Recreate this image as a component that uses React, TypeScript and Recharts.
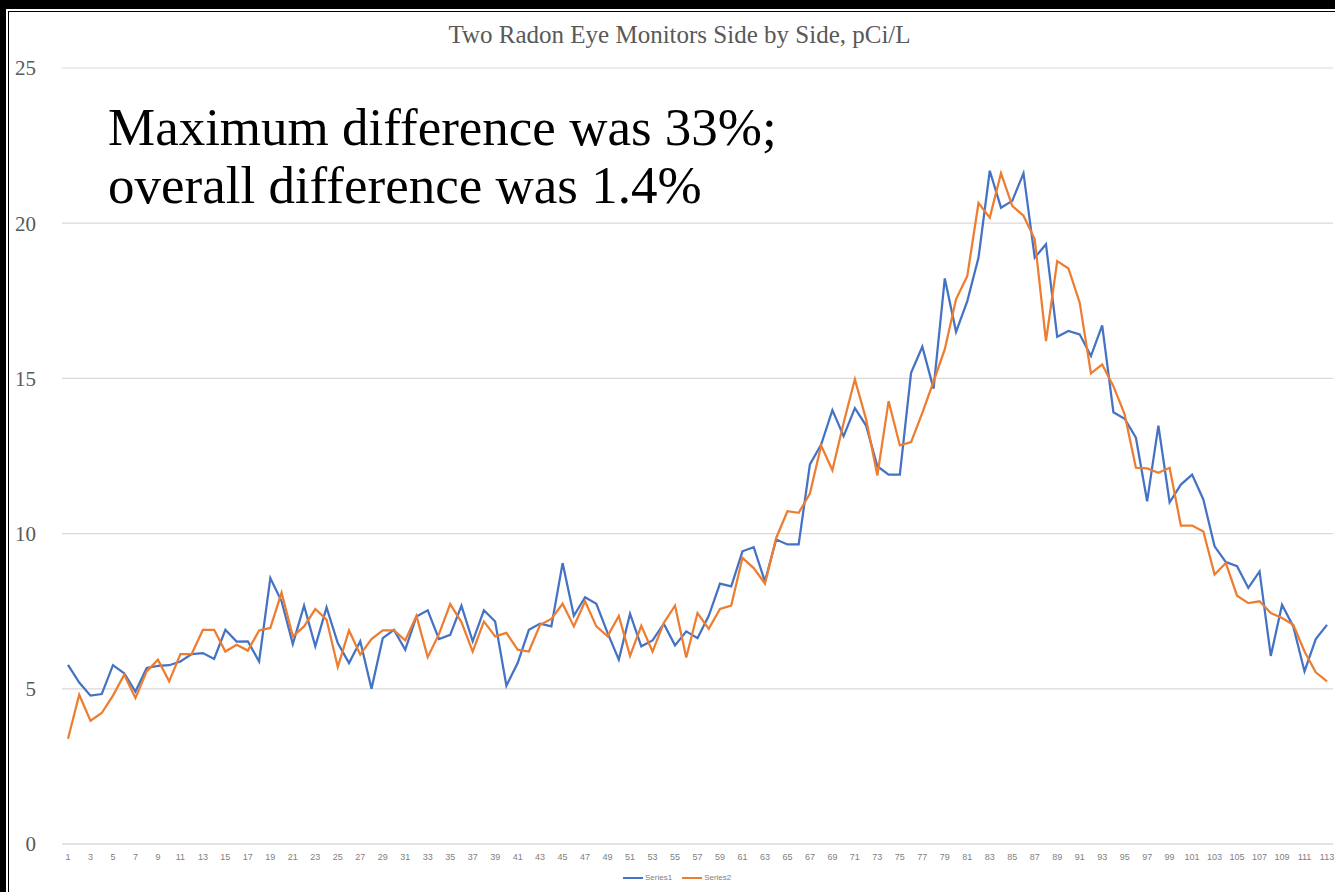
import { LineChart, Line, XAxis, YAxis, CartesianGrid } from "recharts";

// reading number 1..113, every other one shown on the axis
const readings = Array.from({ length: 113 }, (_, i) => String(i + 1));

// Radon Eye #1 (blue)
const series1 = [
  5.77, 5.2, 4.78, 4.83, 5.76, 5.5, 4.91, 5.67, 5.74, 5.76,
  5.88, 6.12, 6.15, 5.96, 6.9, 6.52, 6.53, 5.88, 8.57, 7.82,
  6.44, 7.68, 6.37, 7.62, 6.47, 5.83, 6.53, 5.0, 6.63, 6.9,
  6.26, 7.33, 7.53, 6.6, 6.74, 7.68, 6.53, 7.53, 7.17, 5.1,
  5.83, 6.9, 7.1, 7.01, 9.05, 7.35, 7.95, 7.74, 6.8, 5.94,
  7.42, 6.37, 6.56, 7.1, 6.4, 6.85, 6.63, 7.35, 8.39, 8.3,
  9.43, 9.56, 8.46, 9.81, 9.65, 9.65, 12.23, 12.87, 13.98, 13.14,
  14.04, 13.48, 12.17, 11.9, 11.9, 15.18, 16.02, 14.67, 18.22, 16.5,
  17.49, 18.89, 21.69, 20.5, 20.72, 21.61, 18.89, 19.32, 16.34, 16.53,
  16.42, 15.72, 16.71, 13.91, 13.7, 13.09, 11.04, 13.48, 11.01, 11.58,
  11.9, 11.1, 9.59, 9.08, 8.95, 8.25, 8.78, 6.06, 7.71, 7.01,
  5.56, 6.6, 7.06,
];

// Radon Eye #2 (orange)
const series2 = [
  3.39, 4.81, 3.97, 4.22, 4.78, 5.45, 4.7, 5.56, 5.94, 5.24,
  6.12, 6.12, 6.9, 6.9, 6.2, 6.42, 6.23, 6.88, 6.96, 8.1,
  6.69, 7.01, 7.57, 7.23, 5.7, 6.88, 6.1, 6.6, 6.88, 6.88,
  6.56, 7.35, 6.02, 6.76, 7.73, 7.15, 6.2, 7.17, 6.69, 6.8,
  6.26, 6.2, 7.06, 7.25, 7.74, 7.01, 7.82, 7.01, 6.69, 7.35,
  6.06, 7.03, 6.2, 7.12, 7.68, 6.01, 7.44, 6.93, 7.57, 7.68,
  9.22, 8.89, 8.39, 9.86, 10.72, 10.67, 11.29, 12.84, 12.04, 13.57,
  14.97, 13.68, 11.87, 14.27, 12.84, 12.95, 13.89, 14.9, 15.94, 17.55,
  18.3, 20.65, 20.18, 21.61, 20.56, 20.24, 19.48, 16.2, 18.78, 18.54,
  17.44, 15.16, 15.45, 14.75, 13.84, 12.12, 12.1, 11.96, 12.12, 10.26,
  10.26, 10.07, 8.68, 9.05, 8.0, 7.76, 7.82, 7.44, 7.28, 7.06,
  6.2, 5.53, 5.24,
];

const yTicks = [0, 5, 10, 15, 20, 25];

const chartData = readings.map((r, i) => ({
  reading: r,
  s1: series1[i],
  s2: series2[i],
}));

const serif = "'Liberation Serif', 'Times New Roman', serif";

export default function App() {
  return (
    <div
      style={{
        position: "relative",
        width: 1335,
        height: 892,
        background: "#000",
        overflow: "hidden",
      }}
    >
      <style>{`body{margin:0}`}</style>
      {/* white sheet with the thin inner frame line */}
      <div style={{ position: "absolute", left: 6, top: 9, right: 0, bottom: 0, background: "#fff" }} />
      <div
        style={{
          position: "absolute",
          left: 8,
          top: 11,
          right: 0,
          bottom: 0,
          borderLeft: "1.5px solid #000",
          borderTop: "1.5px solid #000",
        }}
      />

      <div
        style={{
          position: "absolute",
          left: 12,
          top: 21,
          width: 1335,
          textAlign: "center",
          fontFamily: serif,
          fontSize: 25,
          lineHeight: "28px",
          color: "#595959",
        }}
      >
        Two Radon Eye Monitors Side by Side, pCi/L
      </div>

      <div style={{ position: "absolute", left: 0, top: 0 }}>
        <LineChart
          width={1335}
          height={892}
          data={chartData}
          margin={{ top: 68, right: 2, bottom: 18, left: 0 }}
        >
          <CartesianGrid vertical={false} stroke="#d9d9d9" strokeWidth={1.2} />
          <XAxis
            dataKey="reading"
            interval={1}
            height={30}
            padding={{ left: 6, right: 6 }}
            axisLine={{ stroke: "#d9d9d9" }}
            tickLine={false}
            tickSize={0}
            tickMargin={10}
            tick={{ fontSize: 9, fill: "#7f7f7f", fontFamily: "'Liberation Sans', sans-serif" }}
          />
          <YAxis
            width={62}
            domain={[0, 25]}
            ticks={yTicks}
            axisLine={false}
            tickLine={false}
            tickSize={0}
            tickMargin={26}
            tick={{ fontSize: 21, fill: "#595959", fontFamily: serif }}
          />
          <Line
            type="linear"
            dataKey="s1"
            name="Series1"
            stroke="#4472C4"
            strokeWidth={2.25}
            dot={false}
            isAnimationActive={false}
          />
          <Line
            type="linear"
            dataKey="s2"
            name="Series2"
            stroke="#ED7D31"
            strokeWidth={2.25}
            dot={false}
            isAnimationActive={false}
          />
        </LineChart>
      </div>

      {/* annotation typed on the slide */}
      <div
        style={{
          position: "absolute",
          left: 108,
          top: 98,
          fontFamily: serif,
          fontSize: 53,
          lineHeight: "58px",
          color: "#000",
          whiteSpace: "nowrap",
        }}
      >
        Maximum difference was 33%;
        <br />
        overall difference was 1.4%
      </div>

      {/* legend */}
      <div
        style={{
          position: "absolute",
          left: 623,
          top: 873,
          display: "flex",
          alignItems: "center",
          fontFamily: "'Liberation Sans', sans-serif",
          fontSize: 8,
          color: "#7f7f7f",
        }}
      >
        <span style={{ display: "inline-block", width: 20, height: 2, background: "#4472C4" }} />
        <span style={{ marginLeft: 2, marginRight: 10 }}>Series1</span>
        <span style={{ display: "inline-block", width: 20, height: 2, background: "#ED7D31" }} />
        <span style={{ marginLeft: 2 }}>Series2</span>
      </div>
    </div>
  );
}
